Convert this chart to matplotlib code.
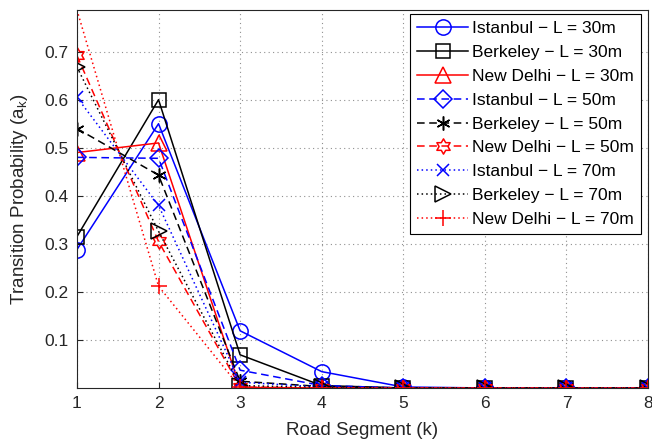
import numpy as np
import matplotlib.pyplot as plt
from matplotlib.path import Path

plt.rcParams['font.family'] = ['Liberation Sans', 'DejaVu Sans']

# road segment index
segments = [1, 2, 3, 4, 5, 6, 7, 8]

# transition probabilities
istanbul_30 = [0.288, 0.550, 0.119, 0.034, 0.002, 0.0, 0.0, 0.0]
berkeley_30 = [0.315, 0.600, 0.069, 0.005, 0.0, 0.0, 0.0, 0.0]
delhi_30 = [0.490, 0.510, 0.001, 0.0, 0.0, 0.0, 0.0, 0.0]
istanbul_50 = [0.480, 0.478, 0.037, 0.005, 0.0, 0.0, 0.0, 0.0]
berkeley_50 = [0.540, 0.443, 0.014, 0.003, 0.0, 0.0, 0.0, 0.0]
delhi_50 = [0.692, 0.305, 0.002, 0.0, 0.0, 0.0, 0.0, 0.0]
istanbul_70 = [0.605, 0.380, 0.012, 0.002, 0.0, 0.0, 0.0, 0.0]
berkeley_70 = [0.668, 0.326, 0.005, 0.001, 0.0, 0.0, 0.0, 0.0]
delhi_70 = [0.787, 0.212, 0.001, 0.0, 0.0, 0.0, 0.0, 0.0]

labels = ['Istanbul \u2212 L = 30m', 'Berkeley \u2212 L = 30m', 'New Delhi \u2212 L = 30m',
          'Istanbul \u2212 L = 50m', 'Berkeley \u2212 L = 50m', 'New Delhi \u2212 L = 50m',
          'Istanbul \u2212 L = 70m', 'Berkeley \u2212 L = 70m', 'New Delhi \u2212 L = 70m']


# six pointed star (MATLAB 'hexagram')
def hexagram():
    verts = []
    for i in range(12):
        ang = np.pi / 2 + i * np.pi / 6
        r = 1.0 if i % 2 == 0 else 1.0 / np.sqrt(3)
        verts.append((r * np.cos(ang), r * np.sin(ang)))
    verts.append(verts[0])
    codes = [Path.MOVETO] + [Path.LINETO] * 11 + [Path.CLOSEPOLY]
    return Path(verts, codes)


blue = '#0000ff'
red = '#ff0000'
series = [
    (istanbul_30, blue, '-', 'o', 11),
    (berkeley_30, 'black', '-', 's', 10),
    (delhi_30, red, '-', '^', 11),
    (istanbul_50, blue, (0, (5, 3)), 'D', 9),
    (berkeley_50, 'black', (0, (5, 3)), (6, 2, 0), 10),
    (delhi_50, red, (0, (5, 3)), hexagram(), 11),
    (istanbul_70, blue, (0, (1, 2)), 'x', 8),
    (berkeley_70, 'black', (0, (1, 2)), '>', 11),
    (delhi_70, red, (0, (1, 2)), '+', 12),
]

fig = plt.figure(figsize=(6.52, 4.48), dpi=100)
ax = fig.add_axes([0.118, 0.134, 0.876, 0.844])

for (vals, col, ls, mk, ms), lab in zip(series, labels):
    ax.plot(segments, vals, color=col, linestyle=ls, marker=mk, markersize=ms,
            markerfacecolor='none', markeredgecolor=col, linewidth=1.1,
            markeredgewidth=1.1, label=lab)

ax.set_xlim(1, 8)
ax.set_ylim(0, 0.787)
ax.set_xticks(segments)
ax.set_yticks([0.1, 0.2, 0.3, 0.4, 0.5, 0.6, 0.7])
ax.tick_params(direction='in', labelsize=12.5, length=4, pad=6, colors='#262626')
ax.grid(True, linestyle=(0, (1, 3)), color='#909090', linewidth=0.8)
for sp in ax.spines.values():
    sp.set_color('#262626')

ax.set_xlabel('Road Segment (k)', fontsize=13.5, color='#262626', labelpad=8)
ax.set_ylabel('Transition Probability (a$_\\mathregular{k}$)', fontsize=13.5,
              color='#262626', labelpad=10)

leg = ax.legend(loc='upper right', bbox_to_anchor=(0.995, 1.0), fontsize=12.5,
                fancybox=False, edgecolor='black', framealpha=1,
                handlelength=2.9, labelspacing=0.5, borderpad=0.4,
                handletextpad=0.25, borderaxespad=0.25)
leg.get_frame().set_linewidth(0.8)

fig.savefig('out.png', dpi=100)
